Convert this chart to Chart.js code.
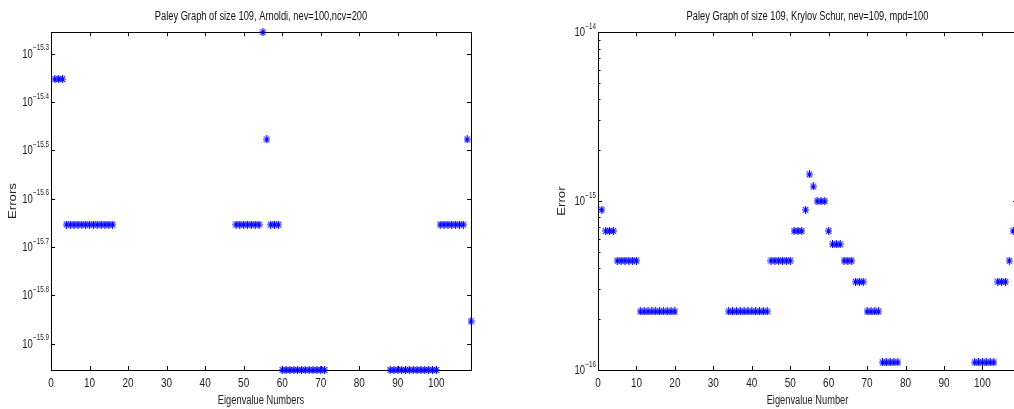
<!DOCTYPE html>
<html>
<head>
<meta charset="utf-8">
<script src="https://cdn.jsdelivr.net/npm/chart.js@4.4.0/dist/chart.umd.min.js"></script>
<style>
  html, body { margin: 0; padding: 0; background: #fff; overflow: hidden; width: 1014px; height: 409px; }
  canvas { position: absolute; top: 0; }
  #arnoldi { left: 0; }
  #krylov { left: 547px; }
</style>
</head>
<body>
<canvas id="arnoldi" width="522" height="409"></canvas>
<canvas id="krylov" width="521" height="409"></canvas>
<script>
// Errors per eigenvalue number 1..109 (null = exact, not plotted on log axis)
const arnoldiErr = [
  4.44e-16, 4.44e-16, 4.44e-16,
  2.22e-16, 2.22e-16, 2.22e-16, 2.22e-16, 2.22e-16, 2.22e-16, 2.22e-16,
  2.22e-16, 2.22e-16, 2.22e-16, 2.22e-16, 2.22e-16, 2.22e-16,
  null, null, null, null, null, null, null, null, null, null,
  null, null, null, null, null, null, null, null, null, null,
  null, null, null, null, null, null, null, null, null, null, null,
  2.22e-16, 2.22e-16, 2.22e-16, 2.22e-16, 2.22e-16, 2.22e-16, 2.22e-16,
  5.55e-16, 3.33e-16,
  2.22e-16, 2.22e-16, 2.22e-16,
  1.11e-16, 1.11e-16, 1.11e-16, 1.11e-16, 1.11e-16, 1.11e-16,
  1.11e-16, 1.11e-16, 1.11e-16, 1.11e-16, 1.11e-16, 1.11e-16,
  null, null, null, null, null, null, null, null,
  null, null, null, null, null, null, null, null,
  1.11e-16, 1.11e-16, 1.11e-16, 1.11e-16, 1.11e-16, 1.11e-16, 1.11e-16,
  1.11e-16, 1.11e-16, 1.11e-16, 1.11e-16, 1.11e-16, 1.11e-16,
  2.22e-16, 2.22e-16, 2.22e-16, 2.22e-16, 2.22e-16, 2.22e-16, 2.22e-16,
  3.33e-16, 1.40e-16
];

const krylovErr = [
  8.88e-16,
  6.66e-16, 6.66e-16, 6.66e-16,
  4.44e-16, 4.44e-16, 4.44e-16, 4.44e-16, 4.44e-16, 4.44e-16,
  2.22e-16, 2.22e-16, 2.22e-16, 2.22e-16, 2.22e-16,
  2.22e-16, 2.22e-16, 2.22e-16, 2.22e-16, 2.22e-16,
  null, null, null, null, null, null, null, null, null, null, null, null, null,
  2.22e-16, 2.22e-16, 2.22e-16, 2.22e-16, 2.22e-16, 2.22e-16,
  2.22e-16, 2.22e-16, 2.22e-16, 2.22e-16, 2.22e-16,
  4.44e-16, 4.44e-16, 4.44e-16, 4.44e-16, 4.44e-16, 4.44e-16,
  6.66e-16, 6.66e-16, 6.66e-16,
  8.88e-16, 1.44e-15, 1.22e-15,
  9.99e-16, 9.99e-16, 9.99e-16,
  6.66e-16,
  5.55e-16, 5.55e-16, 5.55e-16,
  4.44e-16, 4.44e-16, 4.44e-16,
  3.33e-16, 3.33e-16, 3.33e-16,
  2.22e-16, 2.22e-16, 2.22e-16, 2.22e-16,
  1.11e-16, 1.11e-16, 1.11e-16, 1.11e-16, 1.11e-16,
  null, null, null, null, null, null, null, null, null, null,
  null, null, null, null, null, null, null, null, null,
  1.11e-16, 1.11e-16, 1.11e-16, 1.11e-16, 1.11e-16, 1.11e-16,
  3.33e-16, 3.33e-16, 3.33e-16,
  4.44e-16, 6.66e-16, 9.99e-16
];

// Axis limits and ticks
const xMax = 109;
const xTicks = [0, 10, 20, 30, 40, 50, 60, 70, 80, 90, 100];

const arnoldiYMin = 1.11e-16, arnoldiYMax = 5.55e-16;
const arnoldiYExps = [-15.9, -15.8, -15.7, -15.6, -15.5, -15.4, -15.3];

const krylovYMin = 1e-16, krylovYMax = 1e-14;
const krylovYMajor = [1e-16, 1e-15, 1e-14];
const krylovYMinor = [2e-16, 3e-16, 4e-16, 5e-16, 6e-16, 7e-16, 8e-16, 9e-16,
                      2e-15, 3e-15, 4e-15, 5e-15, 6e-15, 7e-15, 8e-15, 9e-15];

const FAMILY = "'Liberation Sans', Arial, sans-serif";
const TEXT_STRETCH = 1.32;   // the original figure was stretched vertically
Chart.defaults.font.family = FAMILY;
Chart.defaults.color = '#222';

const expLabel = v => (Math.round(Math.log10(v) * 10) / 10).toString().replace('-', '\u2212');

// asterisk marker, a bit taller than wide like the original figure
function asterisk(w, h) {
  const c = document.createElement('canvas');
  c.width = w; c.height = h;
  const g = c.getContext('2d');
  g.strokeStyle = '#0000ff';
  g.lineWidth = 1.1;
  g.beginPath();
  g.moveTo(w / 2, 0); g.lineTo(w / 2, h);
  g.moveTo(0, h / 2); g.lineTo(w, h / 2);
  g.moveTo(0.8, 1); g.lineTo(w - 0.8, h - 1);
  g.moveTo(w - 0.8, 1); g.lineTo(0.8, h - 1);
  g.stroke();
  return c;
}
const marker = asterisk(7, 8);

// stretch every text vertically (device space) around its anchor
const tallText = {
  id: 'tallText',
  beforeInit(chart) {
    const ctx = chart.ctx;
    const orig = ctx.fillText.bind(ctx);
    ctx.fillText = function (text, x, y, maxWidth) {
      const m = this.getTransform();
      const p = m.transformPoint(new DOMPoint(x, y));
      this.save();
      this.setTransform(new DOMMatrix().translate(p.x, p.y).scale(1, TEXT_STRETCH)
        .translate(-p.x, -p.y).multiply(m));
      if (maxWidth === undefined) orig(text, x, y); else orig(text, x, y, maxWidth);
      this.restore();
    };
  }
};

// MATLAB style box, inward ticks and 10^x labels
const matlabAxes = {
  id: 'matlabAxes',
  beforeDatasetsDraw(chart) {
    const {ctx, chartArea: a, scales: {x, y}} = chart;
    ctx.save();
    ctx.strokeStyle = '#000';
    ctx.lineWidth = 1;
    ctx.beginPath();
    x.ticks.forEach(t => {
      const px = Math.round(x.getPixelForValue(t.value)) + 0.5;
      ctx.moveTo(px, a.bottom); ctx.lineTo(px, a.bottom - 4);
      ctx.moveTo(px, a.top); ctx.lineTo(px, a.top + 4);
    });
    y.ticks.forEach(t => {
      const py = Math.round(y.getPixelForValue(t.value)) + 0.5;
      const len = t.major ? 4 : 2.5;
      ctx.moveTo(a.left, py); ctx.lineTo(a.left + len, py);
      ctx.moveTo(a.right, py); ctx.lineTo(a.right - len, py);
    });
    ctx.stroke();
    ctx.strokeRect(Math.round(a.left) + 0.5, Math.round(a.top) + 0.5,
                   Math.round(a.right - a.left), Math.round(a.bottom - a.top));

    ctx.fillStyle = '#222';
    ctx.textBaseline = 'middle';
    ctx.textAlign = 'right';
    y.ticks.forEach(t => {
      if (!t.major) return;
      const py = y.getPixelForValue(t.value);
      const exp = expLabel(t.value);
      ctx.font = '6.3px ' + FAMILY;
      const ew = ctx.measureText(exp).width;
      const xr = a.left - 2;
      ctx.fillText(exp, xr, py - 5.5);
      ctx.font = '9.5px ' + FAMILY;
      ctx.fillText('10', xr - ew - 0.3, py + 0.5);
    });
    ctx.restore();
  }
};

function makeChart(id, title, yTitle, xTitle, errors, yMin, yMax, yTicks, yTitlePad) {
  return new Chart(document.getElementById(id), {
    type: 'scatter',
    data: {
      datasets: [{
        data: errors.map((v, i) => ({x: i + 1, y: v})),
        pointStyle: marker,
        pointRadius: 4,
        pointHoverRadius: 4,
        showLine: false,
        clip: false
      }]
    },
    options: {
      responsive: false,
      animation: false,
      events: [],
      layout: { padding: 0 },
      plugins: {
        legend: { display: false },
        tooltip: { enabled: false },
        title: {
          display: true,
          text: title,
          color: '#111',
          font: { size: 9.3, weight: 'normal' },
          padding: { top: 11, bottom: 10 }
        }
      },
      scales: {
        x: {
          type: 'linear',
          min: 0,
          max: xMax,
          grid: { display: false, drawTicks: false },
          border: { display: false },
          ticks: { font: { size: 10 }, padding: 7, maxRotation: 0 },
          afterBuildTicks: s => { s.ticks = xTicks.map(v => ({value: v})); },
          afterFit: s => { s.height = 39; },
          title: { display: true, text: xTitle, font: { size: 9.3 }, padding: { top: 0, bottom: 3 } }
        },
        y: {
          type: 'logarithmic',
          position: 'left',
          min: yMin,
          max: yMax,
          grid: { display: false, drawTicks: false },
          border: { display: false },
          ticks: { display: false },
          afterBuildTicks: s => { s.ticks = yTicks.map(t => ({value: t.value, major: t.major})); },
          afterFit: s => { s.width = 51; },
          title: { display: true, text: yTitle, font: { size: 10 }, padding: { top: yTitlePad, bottom: 0 } }
        },
        // empty right axis only to keep the title centred over the plot box
        yPad: {
          position: 'right',
          display: true,
          grid: { display: false },
          border: { display: false },
          ticks: { display: false },
          afterFit: s => { s.width = 51; }
        }
      }
    },
    plugins: [tallText, matlabAxes]
  });
}

makeChart('arnoldi', 'Paley Graph of size 109, Arnoldi, nev=100,ncv=200', 'Errors', 'Eigenvalue Numbers',
  arnoldiErr, arnoldiYMin, arnoldiYMax,
  arnoldiYExps.map(e => ({value: Math.pow(10, e), major: true})), 7);

makeChart('krylov', 'Paley Graph of size 109, Krylov Schur, nev=109, mpd=100', 'Error', 'Eigenvalue Number',
  krylovErr, krylovYMin, krylovYMax,
  krylovYMajor.map(v => ({value: v, major: true})).concat(krylovYMinor.map(v => ({value: v, major: false}))), 9);
</script>
</body>
</html>
